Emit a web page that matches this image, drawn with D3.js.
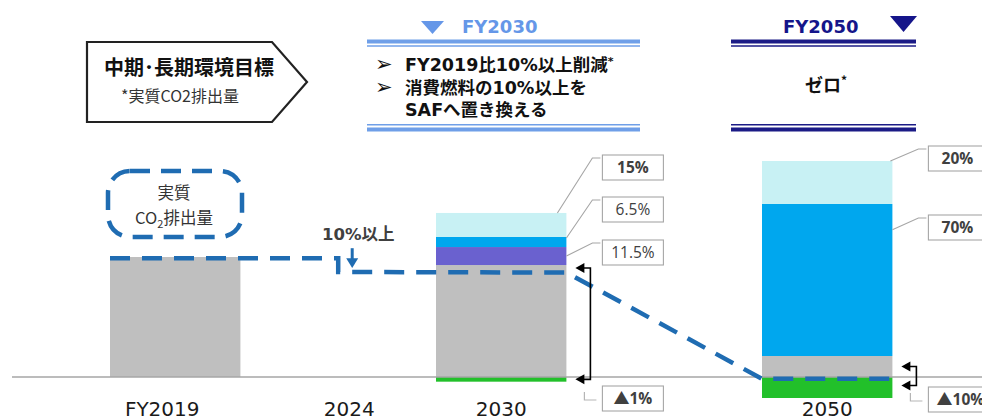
<!DOCTYPE html>
<html><head><meta charset="utf-8">
<script src="https://cdn.jsdelivr.net/npm/d3@7/dist/d3.min.js"></script>
<style>
body{margin:0;background:#fff}
svg{display:block;background:#fff}
</style>
</head><body>
<svg id="chart" width="982" height="419"></svg>
<script>
// ---------------- DATA ----------------
const categories = ["FY2019", "2024", "2030", "2050"];
const slots = ["FY2019", "2024", "2030", "2040", "2050"]; // 2040 = empty spacer slot
const barCategories = ["FY2019", "2030", "2050"];
// stacked segments, FY2019 emissions = 100
const grayValues   = [100, 93.3, 17.5];   // net CO2 emissions
const purpleValues = [0, 15, 0];
const blueValues   = [0, 8.4, 126.7];
const cyanValues   = [0, 20, 35.8];
const greenValues  = [0, -3.9, -17.5];
const seriesKeys = ["green", "gray", "purple", "blue", "cyan"];
// dashed target trajectory (value of emissions)
const trajectoryCats  = ["FY2019", "2024", "2024", "2030", "2050", "2050"];
const trajectoryEdges = ["start", "mid", "mid", "end", "start", "end"];
const trajectoryVals  = [99, 99, 87.5, 87, -1.5, -1.5];
// segment labels
const labelCats  = ["2030", "2030", "2030", "2030", "2050", "2050", "2050"];
const labelKeys  = ["cyan", "blue", "purple", "green", "cyan", "blue", "green"];
const labelTexts = ["15%", "6.5%", "11.5%", "▲1%", "20%", "70%", "▲10%"];
const labelBold  = [true, false, false, true, true, true, true];

// ---------------- STYLE / LAYOUT ----------------
const colors = {gray:"#bfbfbf", purple:"#6a61cf", blue:"#00a7ee", cyan:"#c8f1f4", green:"#22c02a"};
const dashBlue = "#1f6cb2";
const labelLayout = [ // box top (px), anchor fraction from segment top, inset from bar right
  {top:155, frac:0,    inset:9},
  {top:197, frac:0.1,  inset:0},
  {top:240, frac:0.5,  inset:0},
  {top:386},
  {top:146, frac:0,    inset:2},
  {top:215, frac:0.17, inset:0},
  {top:387}
];

const svg = d3.select("#chart");
const W = 982, H = 419;

const x = d3.scaleBand().domain(slots).range([93.7, 908.7]).paddingInner(0.2).paddingOuter(0.1);
const y = d3.scaleLinear().domain([0, 100]).range([377, 257]);
const bw = x.bandwidth();

// ---------------- HEADER ----------------
const hdr = svg.append("g");
// pentagon
hdr.append("path")
  .attr("d", "M87,42 L272,42 L307,82 L272,122 L87,122 Z")
  .attr("fill", "#fff").attr("stroke", "#222").attr("stroke-width", 2.2);
hdr.append("text").attr("x", 189).attr("y", 75).attr("text-anchor", "middle")
  .style("font-family", "'Noto Sans CJK JP'").style("font-weight", 700).style("font-size", "20px").attr("fill", "#111")
  .text("中期･長期環境目標");
hdr.append("text").attr("x", 180).attr("y", 102).attr("text-anchor", "middle")
  .style("font-family", "'Noto Sans CJK JP'").style("font-size", "16px").attr("fill", "#333")
  .text("*実質CO2排出量");

function doubleLines(x1, x2, color) {
  hdr.append("line").attr("x1", x1).attr("x2", x2).attr("y1", 41.5).attr("y2", 41.5).attr("stroke", color).attr("stroke-width", 4);
  hdr.append("line").attr("x1", x1).attr("x2", x2).attr("y1", 46).attr("y2", 46).attr("stroke", color).attr("stroke-width", 1.4);
  hdr.append("line").attr("x1", x1).attr("x2", x2).attr("y1", 124.8).attr("y2", 124.8).attr("stroke", color).attr("stroke-width", 1.4);
  hdr.append("line").attr("x1", x1).attr("x2", x2).attr("y1", 129.5).attr("y2", 129.5).attr("stroke", color).attr("stroke-width", 4);
}
// FY2030
const c30 = "#6597e8";
hdr.append("path").attr("d", "M421,21 L444,21 L432.5,34 Z").attr("fill", c30);
hdr.append("text").attr("x", 462).attr("y", 33)
  .style("font-family", "'DejaVu Sans'").style("font-weight", 700).style("font-size", "18px").attr("fill", c30)
  .text("FY2030");
doubleLines(367, 640, "#6f9fe8");
const bl = [
  {y:71, t:"FY2019比10%以上削減", sup:"*", bullet:true},
  {y:94, t:"消費燃料の10%以上を", bullet:true},
  {y:116, t:"SAFへ置き換える", bullet:false}
];
bl.forEach(d => {
  if (d.bullet) hdr.append("text").attr("x", 375).attr("y", d.y)
    .style("font-family", "'DejaVu Sans'").style("font-size", "21px").attr("fill", "#111").text("➢");
  const t = hdr.append("text").attr("x", 405).attr("y", d.y)
    .style("font-family", "'DejaVu Sans','Noto Sans CJK JP'").style("font-weight", 700).style("font-size", "17.5px").attr("fill", "#111")
    .text(d.t);
  if (d.sup) t.append("tspan").attr("dy", -6).style("font-size", "11px").text(d.sup);
});
// FY2050
const c50 = "#15158a";
hdr.append("text").attr("x", 783).attr("y", 33)
  .style("font-family", "'DejaVu Sans'").style("font-weight", 700).style("font-size", "18px").attr("fill", c50)
  .text("FY2050");
hdr.append("path").attr("d", "M890,16 L917,16 L903.5,32 Z").attr("fill", c50);
doubleLines(731, 916, "#1b1b86");
const zt = hdr.append("text").attr("x", 826).attr("y", 92).attr("text-anchor", "middle")
  .style("font-family", "'Noto Sans CJK JP'").style("font-weight", 700).style("font-size", "18px").attr("fill", "#111")
  .text("ゼロ");
zt.append("tspan").attr("dy", -7).style("font-size", "12px").text("*");

// ---------------- BARS ----------------
const table = barCategories.map((c, i) => ({
  cat: c, green: greenValues[i], gray: grayValues[i], purple: purpleValues[i], blue: blueValues[i], cyan: cyanValues[i]
}));
const stacked = d3.stack().keys(seriesKeys).offset(d3.stackOffsetDiverging)(table);
const segIndex = {};
stacked.forEach(layer => layer.forEach(s => { segIndex[s.data.cat + "|" + layer.key] = s; }));

svg.append("g").selectAll("g").data(stacked).join("g")
  .attr("fill", d => colors[d.key])
  .selectAll("rect").data(d => d.filter(s => s[1] - s[0] !== 0)).join("rect")
  .attr("x", d => x(d.data.cat))
  .attr("width", bw)
  .attr("y", d => y(Math.max(d[0], d[1])))
  .attr("height", d => Math.abs(y(d[0]) - y(d[1])));

// baseline
svg.append("line").attr("x1", 12).attr("x2", W).attr("y1", y(0)).attr("y2", y(0))
  .attr("stroke", "#a6a6a6").attr("stroke-width", 1.5);

// axis labels
const axis = svg.append("g").attr("transform", `translate(0,${y(0)})`)
  .call(d3.axisBottom(x).tickValues(categories).tickSize(0).tickPadding(25));
axis.select(".domain").remove();
axis.selectAll("text")
  .style("font-family", "'DejaVu Sans'").style("font-size", "20px").attr("fill", "#1a1a1a")
  .attr("dx", d => d === "FY2019" ? -13 : d === "2024" ? 11 : 0);

// ---------------- TRAJECTORY ----------------
const px = (c, e) => e === "start" ? x(c) : e === "end" ? x(c) + bw : x(c) + bw / 2;
const traj = trajectoryCats.map((c, i) => [px(c, trajectoryEdges[i]), y(trajectoryVals[i])]);
svg.append("path").attr("d", d3.line()(traj))
  .attr("fill", "none").attr("stroke", dashBlue).attr("stroke-width", 4.5)
  .attr("stroke-dasharray", "20 12");

// 10% drop arrow + text
const ax = px("2024", "mid") + 14;
svg.append("line").attr("x1", ax).attr("x2", ax).attr("y1", y(99) - 10).attr("y2", y(99) + 2)
  .attr("stroke", dashBlue).attr("stroke-width", 3);
svg.append("path").attr("d", `M${ax - 6},${y(99)} L${ax + 6},${y(99)} L${ax},${y(87.5) - 4} Z`).attr("fill", dashBlue);
svg.append("text").attr("x", ax + 6).attr("y", 240).attr("text-anchor", "middle")
  .style("font-family", "'DejaVu Sans','Noto Sans CJK JP'").style("font-weight", 700).style("font-size", "16.5px").attr("fill", "#404040")
  .text("10%以上");

// dashed rounded label box
svg.append("rect").attr("x", 108).attr("y", 171).attr("width", 134).attr("height", 66).attr("rx", 22)
  .attr("fill", "none").attr("stroke", dashBlue).attr("stroke-width", 4.5).attr("stroke-dasharray", "20 11");
svg.append("text").attr("x", 174).attr("y", 199).attr("text-anchor", "middle")
  .style("font-family", "'Noto Sans CJK JP'").style("font-size", "16.5px").attr("fill", "#333").text("実質");
const co = svg.append("text").attr("x", 174).attr("y", 224).attr("text-anchor", "middle")
  .style("font-family", "'Noto Sans CJK JP'").style("font-size", "16.5px").attr("fill", "#333");
co.append("tspan").text("CO");
co.append("tspan").attr("dy", 4).style("font-size", "11px").text("2");
co.append("tspan").attr("dy", -4).text("排出量");

// ---------------- BRACKETS ----------------
function bracket(cat, yTop, yBot) {
  const r = x(cat) + bw;
  const tip = r + 9, vx = r + 24;
  svg.append("path").attr("d", `M${tip + 6},${yTop} H${vx} V${yBot} H${tip + 6}`)
    .attr("fill", "none").attr("stroke", "#000").attr("stroke-width", 1.6);
  [yTop, yBot].forEach(yy => svg.append("path")
    .attr("d", `M${tip},${yy} L${tip + 9},${yy - 5} L${tip + 9},${yy + 5} Z`).attr("fill", "#000"));
}
const s30g = segIndex["2030|gray"], s30n = segIndex["2030|green"];
bracket("2030", y(s30g[1]) + 3, y((s30n[0] + s30n[1]) / 2));
const s50g = segIndex["2050|gray"], s50n = segIndex["2050|green"];
bracket("2050", y((s50g[0] + s50g[1]) / 2), y((s50n[0] + s50n[1]) / 2) - 2);

// ---------------- SEGMENT LABELS ----------------
labelTexts.forEach((t, i) => {
  const cat = labelCats[i], key = labelKeys[i], L = labelLayout[i];
  const seg = segIndex[cat + "|" + key];
  const r = x(cat) + bw;
  const boxL = r + 36;
  const boxW = cat === "2030" ? 61 : 58;
  const boxH = 25;
  const isNeg = t.startsWith("▲");
  if (key === "green") {
    svg.append("path").attr("d", `M${boxL - 18},${L.top + 6} V${L.top + 14} H${boxL - 6}`)
      .attr("fill", "none").attr("stroke", "#b5b5b5").attr("stroke-width", 1.2);
  } else {
    const yTop = y(seg[1]), yBot = y(seg[0]);
    const ay = yTop + (yBot - yTop) * L.frac;
    svg.append("path").attr("d", `M${r - L.inset},${ay} L${boxL - 10},${L.top + 3} H${boxL - 2}`)
      .attr("fill", "none").attr("stroke", "#a6a6a6").attr("stroke-width", 1.1);
  }
  svg.append("rect").attr("x", boxL).attr("y", L.top).attr("width", boxW + (t === "▲10%" ? 4 : 0)).attr("height", boxH)
    .attr("fill", "#fff").attr("stroke", "#a6a6a6").attr("stroke-width", 1.1);
  const tx = svg.append("text").attr("x", boxL + boxW / 2 + (t === "▲10%" ? 3 : 0)).attr("y", L.top + boxH / 2 + 5.5)
    .attr("text-anchor", "middle")
    .style("font-family", "'Open Sans'").style("font-weight", labelBold[i] ? 700 : 400).style("font-size", "15.5px")
    .attr("fill", "#404040");
  if (isNeg) {
    tx.append("tspan").style("font-family", "'Noto Sans CJK JP'").style("font-size", "16px").text("▲");
    tx.append("tspan").text(t.slice(1));
  } else {
    tx.text(t);
  }
});
</script>
</body></html>
